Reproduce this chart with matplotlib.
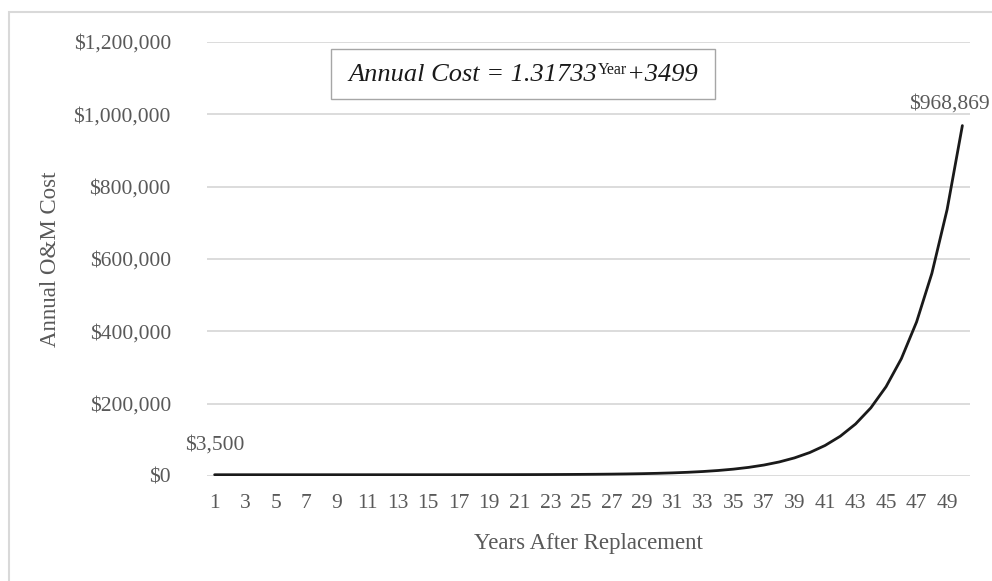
import numpy as np
import matplotlib.pyplot as plt
from matplotlib.patches import Rectangle

# ── data ──────────────────────────────────────────
years = list(range(1, 51))
annual_cost = [
    3500, 3501, 3501, 3502, 3503, 3504, 3506, 3508, 3511, 3515,
    3520, 3526, 3535, 3546, 3561, 3581, 3607, 3642, 3687, 3747,
    3825, 3929, 4065, 4245, 4482, 4794, 5205, 5746, 6459, 7399,
    8636, 10267, 12414, 15243, 18970, 23879, 30346, 38866, 50089, 64875,
    84352, 110010, 143810, 188336, 246990, 324261, 426053, 560147, 736793, 968869,
]
y_ticks = [0, 200000, 400000, 600000, 800000, 1000000, 1200000]
x_ticks = list(range(1, 51, 2))

# ── style ─────────────────────────────────────────
plt.rcParams['font.family'] = ['Liberation Serif', 'DejaVu Serif']
txt = '#595959'

fig = plt.figure(figsize=(9.92, 5.81), dpi=100)
# chart border (only top and left edges fall inside the picture)
fig.patches.append(Rectangle((9 / 992, -10 / 581), 1000 / 992, 579 / 581,
                             transform=fig.transFigure, fill=False,
                             edgecolor='#d9d9d9', linewidth=1.5))

ax = fig.add_axes([207 / 992, 105 / 581, 763 / 992, 434 / 581])
ax.plot(years, annual_cost, color='#1a1a1a', linewidth=2, solid_capstyle='round')

ax.set_xlim(0.5, 50.5)
ax.set_ylim(0, 1200000)
ax.set_yticks(y_ticks)
ax.set_yticklabels([f'${v:,.0f}' for v in y_ticks])
ax.set_xticks(x_ticks)
ax.set_xticklabels([str(v) for v in x_ticks])
ax.tick_params(axis='both', length=0, labelsize=15.5, colors=txt)
ax.tick_params(axis='y', pad=26)
ax.tick_params(axis='x', pad=13)
ax.grid(axis='y', color='#d9d9d9', linewidth=1.3)
ax.set_axisbelow(True)
for s in ax.spines.values():
    s.set_visible(False)

ax.set_xlabel('Years After Replacement', fontsize=16.5, color=txt, labelpad=14)
ax.set_ylabel('Annual O&M Cost', fontsize=16.5, color=txt, labelpad=9)

# data labels
ax.annotate(f'${annual_cost[0]:,.0f}', (years[0], annual_cost[0]),
            xytext=(0, 18), textcoords='offset points', ha='center',
            fontsize=15.5, color=txt)
ax.annotate(f'${annual_cost[-1]:,.0f}', (years[-1], annual_cost[-1]),
            xytext=(20, 12), textcoords='offset points', ha='right',
            fontsize=15.5, color=txt, annotation_clip=False)

# ── equation box (built from pieces so the superscript stays small) ──
fig.canvas.draw()
r = fig.canvas.get_renderer()
parts = [('Annual Cost = 1.31733', 19, 0), ('Year', 11.5, 7), ('+3499', 19, 0)]
ts = [fig.text(0, 0, s, fontsize=fs, style='italic' if fs > 12 else 'normal',
               color='#1a1a1a', transform=None) for s, fs, _ in parts]
widths = [t.get_window_extent(r).width for t in ts]
total = sum(widths)
cx, cy = 523, 581 - 81  # pixel centre, from bottom
x = cx - total / 2
for t, w, (_, _, dy) in zip(ts, widths, parts):
    t.set_position((x, cy + dy))
    t.set_va('baseline')
    x += w
bw, bh = total + 36, 50
fig.patches.append(Rectangle((cx - bw / 2, cy - 18), bw, bh, transform=None,
                             facecolor='white', edgecolor='#a6a6a6',
                             linewidth=1, zorder=0))

fig.savefig('out.png', dpi=100)
